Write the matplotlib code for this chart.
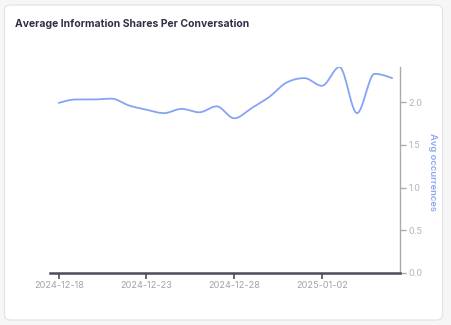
import numpy as np
import pandas as pd
import matplotlib
matplotlib.use("Agg")
import matplotlib.pyplot as plt
from matplotlib.patches import FancyBboxPatch

plt.rcParams['font.family'] = ['Inter', 'DejaVu Sans']

# data
dates = pd.date_range("2024-12-18", "2025-01-06", freq="D")
values = [1.99, 2.03, 2.03, 2.04, 1.96, 1.91, 1.87, 1.92, 1.88, 1.95,
          1.81, 1.93, 2.06, 2.23, 2.28, 2.19, 2.41, 1.87, 2.33, 2.28]
tick_dates = ["2024-12-18", "2024-12-23", "2024-12-28", "2025-01-02"]
y_ticks = [0.0, 0.5, 1.0, 1.5, 2.0]


def monotone(x, y, n=30):
    # monotone cubic (like d3 curveMonotoneX)
    x = np.asarray(x, float)
    y = np.asarray(y, float)
    h = np.diff(x)
    d = np.diff(y) / h
    m = np.zeros_like(y)
    for i in range(1, len(y) - 1):
        if d[i - 1] * d[i] > 0:
            p = (d[i - 1] * h[i] + d[i] * h[i - 1]) / (h[i - 1] + h[i])
            m[i] = (np.sign(d[i - 1]) + np.sign(d[i])) * min(abs(d[i - 1]), abs(d[i]), 0.5 * abs(p))
    m[0] = (3 * d[0] - m[1]) / 2
    m[-1] = (3 * d[-1] - m[-2]) / 2
    xs, ys = [], []
    for i in range(len(h)):
        t = np.linspace(0, 1, n, endpoint=False)
        h00 = 2 * t**3 - 3 * t**2 + 1
        h10 = t**3 - 2 * t**2 + t
        h01 = -2 * t**3 + 3 * t**2
        h11 = t**3 - t**2
        xs.append(x[i] + t * h[i])
        ys.append(h00 * y[i] + h10 * h[i] * m[i] + h01 * y[i + 1] + h11 * h[i] * m[i + 1])
    xs.append([x[-1]])
    ys.append([y[-1]])
    return np.concatenate(xs), np.concatenate(ys)


W, H = 451, 325
fig = plt.figure(figsize=(W / 100, H / 100), dpi=100)
fig.patch.set_facecolor("#f6f6f7")

card = FancyBboxPatch((4.5 / W, 5 / H), 438 / W, 315 / H,
                      boxstyle="round,pad=0,rounding_size=0.015",
                      transform=fig.transFigure, facecolor="white",
                      edgecolor="#e2e2e6", linewidth=0.8, zorder=-10)
fig.patches.append(card)

fig.text(15 / W, 1 - 24 / H, "Average Information Shares Per Conversation",
         fontsize=7.5, fontweight="bold", color="#2f3045", va="center", ha="left")

ax = fig.add_axes([50 / W, 1 - 273 / H, 350 / W, 206 / H])
ax.set_facecolor("none")

xnum = np.arange(len(dates))
xs, ys = monotone(xnum, values)
ax.plot(xs, ys, color="#86a3f4", linewidth=1.3, solid_capstyle="round")

ax.set_xlim(-0.5, 19.45)
ax.set_ylim(0, 2.41)

for s in ["top", "left"]:
    ax.spines[s].set_visible(False)
ax.spines["bottom"].set_color("#4b4c5c")
ax.spines["bottom"].set_linewidth(1.8)
ax.spines["right"].set_color("#a9a9b2")
ax.spines["right"].set_linewidth(1.0)

tick_pos = [list(dates).index(pd.Timestamp(d)) for d in tick_dates]
ax.set_xticks(tick_pos)
ax.set_xticklabels(tick_dates)
ax.tick_params(axis="x", length=4, width=1.2, color="#4b4c5c",
               labelsize=6.6, labelcolor="#a3a3ab", pad=2)

ax.yaxis.tick_right()
ax.set_yticks(y_ticks)
ax.set_yticklabels([f"{v:.1f}" for v in y_ticks])
ax.tick_params(axis="y", length=4, width=1.0, color="#a9a9b2",
               labelsize=6.6, labelcolor="#b3b3ba", pad=2)

fig.text(433 / W, 1 - 172 / H, "Avg occurrences", rotation=270,
         fontsize=6.8, fontweight="semibold", color="#8ea6f2", ha="center", va="center")

fig.savefig("out.png", dpi=100)
